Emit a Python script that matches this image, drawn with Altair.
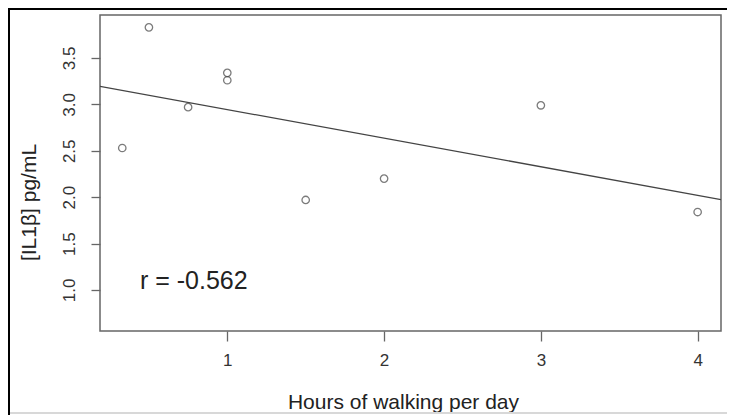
import altair as alt
import pandas as pd

hours = [0.33, 0.5, 0.75, 1.0, 1.0, 1.5, 2.0, 3.0, 4.0]
il1b = [2.53, 3.83, 2.97, 3.34, 3.26, 1.97, 2.20, 2.99, 1.84]
x_ticks = [1, 2, 3, 4]
y_ticks = [1.0, 1.5, 2.0, 2.5, 3.0, 3.5]
x_domain = [0.188, 4.149]
y_domain = [0.558, 3.963]
annotation = "r = -0.562"
annotation_pos = [0.443, 1.10]

df = pd.DataFrame({"hours": hours, "il1b": il1b})

FONT = "Liberation Sans"
W, H = 621, 316

xs = alt.Scale(domain=x_domain, nice=False, zero=False)
ys = alt.Scale(domain=y_domain, nice=False, zero=False)

x_axis = alt.Axis(
    values=x_ticks, format="d", title="Hours of walking per day",
    grid=False, domain=False, tickSize=10, tickColor="#666", tickWidth=1.3,
    labelFontSize=17, labelColor="#333", labelPadding=11, labelFont=FONT,
    titleFontSize=21, titleFont=FONT, titleColor="#222", titleFontWeight="normal",
    titleX=303, titleY=71, titleBaseline="middle", titleAlign="center")
y_axis = alt.Axis(
    values=y_ticks, format=".1f", title="[IL1β] pg/mL",
    grid=False, domain=False, tickSize=9, tickColor="#666", tickWidth=1.3,
    labelFontSize=17, labelColor="#333", labelAngle=-90, labelAlign="center",
    labelBaseline="middle", labelPadding=22, labelFont=FONT,
    titleFontSize=21, titleFont=FONT, titleColor="#222", titleFontWeight="normal",
    titleAngle=-90, titleX=-71, titleY=187, titleBaseline="middle", titleAlign="center")

x_enc = alt.X("hours:Q", scale=xs, axis=x_axis)
y_enc = alt.Y("il1b:Q", scale=ys, axis=y_axis)

points = alt.Chart(df).mark_point(shape="circle", filled=False, size=55,
                                  stroke="#444", strokeWidth=1.3).encode(x=x_enc, y=y_enc)

line = alt.Chart(df).transform_regression(
    "hours", "il1b", extent=x_domain
).mark_line(color="#444", strokeWidth=1.3, clip=True).encode(x=x_enc, y=y_enc)

label_df = pd.DataFrame({"hours": [annotation_pos[0]], "il1b": [annotation_pos[1]], "t": [annotation]})
label = alt.Chart(label_df).mark_text(
    align="left", baseline="middle", fontSize=25, font=FONT, color="#222"
).encode(x=x_enc, y=y_enc, text="t:N")

frame_left = alt.Chart(label_df).mark_rule(color="#000", strokeWidth=2).encode(
    x=alt.value(-91), y=alt.value(-7), y2=alt.value(400))
frame_top = alt.Chart(label_df).mark_rule(color="#000", strokeWidth=2).encode(
    x=alt.value(-92), x2=alt.value(627), y=alt.value(-6))
frame_bottom = alt.Chart(label_df).mark_rule(color="#d8d8d8", strokeWidth=2).encode(
    x=alt.value(-90), x2=alt.value(627), y=alt.value(398))

chart = alt.layer(points, line, label, frame_left, frame_top, frame_bottom).properties(
    width=W, height=H,
    autosize=alt.AutoSizeParams(type="none"),
    padding={"left": 92, "top": 7, "right": 6, "bottom": 84},
    background="white",
).configure_view(stroke="#666", strokeWidth=1.5).configure_axis(labelFontSize=17)

chart.save("out.html", embed_options={"renderer": "svg", "actions": False})
